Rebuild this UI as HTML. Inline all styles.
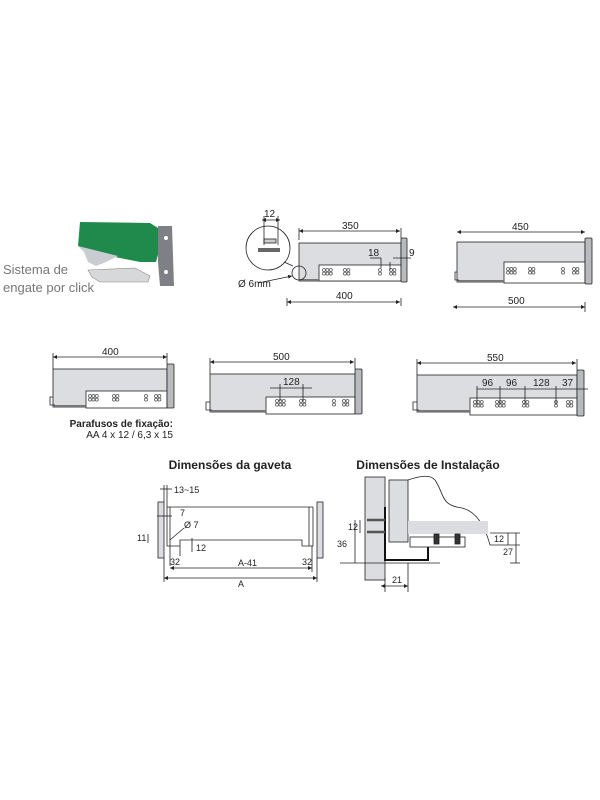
<!DOCTYPE html><html><head><meta charset="utf-8"><style>body{margin:0;background:#fff}svg{display:block}text{font-family:"Liberation Sans",sans-serif;fill:#222}</style></head><body>
<svg width="600" height="800" viewBox="0 0 600 800" xmlns="http://www.w3.org/2000/svg">
<defs>
<marker id="a" viewBox="0 0 6 6" refX="6" refY="3" markerWidth="5" markerHeight="5" orient="auto-start-reverse"><path d="M0,0L6,3L0,6z" fill="#222"/></marker>
<g id="h3" fill="none" stroke="#555" stroke-width="0.8"><circle cx="0" cy="0" r="1.5"/><circle cx="3.4" cy="0" r="1.5"/><circle cx="6.8" cy="0" r="1.5"/><circle cx="0" cy="3.6" r="1.5"/><circle cx="3.4" cy="3.6" r="1.5"/><circle cx="6.8" cy="3.6" r="1.5"/></g>
<g id="h2" fill="none" stroke="#555" stroke-width="0.8"><circle cx="0" cy="0" r="1.5"/><circle cx="3.4" cy="0" r="1.5"/><circle cx="0" cy="3.6" r="1.5"/><circle cx="3.4" cy="3.6" r="1.5"/></g>
<g id="h1" fill="none" stroke="#555" stroke-width="0.8"><circle cx="0" cy="0" r="1.5"/><circle cx="0" cy="3.6" r="1.5"/></g>
</defs>
<g stroke="#222" stroke-width="0.8" font-size="10">
<!-- photo -->
<path d="M80,222 L150,223 L158,228 L162,240 L156,262 L140,262 L120,258 L90,252 L78,246 Z" fill="#1f8a4c" stroke="none"/>
<path d="M78,246 L118,256 L106,262 L96,266 L88,262 L84,252Z" fill="#c9ccd0" stroke="none"/>
<path d="M88,270 L135,268 L150,276 L148,282 L100,282 L92,277Z" fill="#d6d8da" stroke="#888" stroke-width="0.6"/>
<path d="M158,226 L172,226 L174,286 L160,286 L158,262 Z" fill="#7d8085" stroke="none"/>
<circle cx="166" cy="238" r="2" fill="#fff" stroke="none"/><circle cx="166" cy="272" r="2" fill="#fff" stroke="none"/>
<text x="3" y="274" font-size="13" stroke="none" style="fill:#777">Sistema de</text>
<text x="3" y="292" font-size="13" stroke="none" style="fill:#777">engate por click</text>

<!-- drawer 1 -->
<rect x="299" y="243" width="102" height="38" fill="#dcdde0"/>
<rect x="319" y="265" width="82" height="16" fill="#fff"/>
<line x1="299" y1="280" x2="319" y2="280" stroke="#777" stroke-width="2"/>
<rect x="401" y="238" width="6" height="44" rx="1" fill="#b8babd"/>
<use href="#h3" x="324" y="270"/><use href="#h2" x="345" y="270"/><use href="#h1" x="380" y="270"/><use href="#h2" x="391" y="270"/>
<circle cx="299" cy="273" r="7" fill="none"/>
<circle cx="268" cy="248" r="22" fill="#fff"/>
<rect x="258" y="248" width="22" height="4" fill="#666" stroke="none"/><rect x="264" y="239" width="12" height="4" fill="#ccc"/>
<line x1="293" y1="266" x2="284" y2="262"/>
<line x1="262" y1="220" x2="280" y2="220" marker-start="url(#a)" marker-end="url(#a)"/><line x1="264" y1="216" x2="264" y2="245"/><line x1="278" y1="216" x2="278" y2="245"/>
<text x="264" y="217" stroke="none">12</text>
<line x1="299" y1="231" x2="400" y2="231" marker-start="url(#a)" marker-end="url(#a)"/><line x1="299" y1="228" x2="299" y2="240"/><line x1="401" y1="228" x2="401" y2="238"/>
<text x="342" y="229" stroke="none">350</text>
<line x1="287" y1="302" x2="400" y2="302" marker-start="url(#a)" marker-end="url(#a)"/><line x1="287" y1="298" x2="287" y2="306"/><line x1="401" y1="298" x2="401" y2="306"/>
<text x="336" y="299" stroke="none">400</text>
<line x1="370" y1="258" x2="381" y2="258"/><line x1="381" y1="258" x2="381" y2="268"/><text x="368" y="256" stroke="none">18</text>
<line x1="390" y1="262" x2="390" y2="270"/><line x1="393" y1="258" x2="411" y2="258"/><text x="409" y="256" stroke="none">9</text>
<line x1="258" y1="283" x2="292" y2="276" marker-end="url(#a)"/>
<text x="238" y="287" stroke="none">Ø 6mm</text>

<!-- drawer 2 -->
<rect x="457" y="242" width="128" height="40" fill="#dcdde0"/>
<rect x="504" y="262" width="81" height="21" fill="#fff"/>
<line x1="457" y1="281" x2="504" y2="281" stroke="#777" stroke-width="2"/>
<rect x="585" y="238" width="7" height="46" rx="1" fill="#b8babd"/>
<use href="#h3" x="508" y="269"/><use href="#h2" x="530" y="269"/><use href="#h1" x="563" y="269"/><use href="#h2" x="574" y="269"/>
<path d="M457,272 L455,272 L455,280 L459,280" fill="none"/>
<line x1="457" y1="232" x2="585" y2="232" marker-start="url(#a)" marker-end="url(#a)"/>
<text x="512" y="230" stroke="none">450</text>
<line x1="453" y1="307" x2="585" y2="307" marker-start="url(#a)" marker-end="url(#a)"/><line x1="585" y1="302" x2="585" y2="312"/>
<text x="508" y="304" stroke="none">500</text>

<!-- drawer A -->
<rect x="53" y="369" width="114" height="38" fill="#dcdde0"/>
<rect x="86" y="391" width="81" height="17" fill="#fff"/>
<line x1="53" y1="406" x2="86" y2="406" stroke="#777" stroke-width="2"/>
<rect x="167" y="364" width="7" height="44" rx="1" fill="#b8babd"/>
<use href="#h3" x="90" y="396"/><use href="#h2" x="114" y="396"/><use href="#h1" x="146" y="396"/><use href="#h2" x="156" y="396"/>
<path d="M53,397 L50,397 L50,405 L55,405" fill="none"/>
<line x1="53" y1="357" x2="167" y2="357" marker-start="url(#a)" marker-end="url(#a)"/><line x1="53" y1="353" x2="53" y2="369"/><line x1="167" y1="353" x2="167" y2="364"/>
<text x="102" y="355" stroke="none">400</text>
<text x="173" y="427" stroke="none" text-anchor="end" font-weight="bold" font-size="10">Parafusos de fixação:</text>
<text x="173" y="438" stroke="none" text-anchor="end" font-size="10">AA 4 x 12 / 6,3 x 15</text>

<!-- drawer B -->
<rect x="210" y="374" width="145" height="38" fill="#dcdde0"/>
<rect x="266" y="397" width="89" height="17" fill="#fff"/>
<line x1="210" y1="411" x2="266" y2="411" stroke="#777" stroke-width="2"/>
<rect x="355" y="369" width="7" height="45" rx="1" fill="#b8babd"/>
<use href="#h3" x="277" y="401"/><use href="#h2" x="301" y="401"/><use href="#h1" x="334" y="401"/><use href="#h2" x="344" y="401"/>
<path d="M210,402 L206,402 L206,410 L212,410" fill="none"/>
<line x1="210" y1="362" x2="354" y2="362" marker-start="url(#a)" marker-end="url(#a)"/><line x1="210" y1="358" x2="210" y2="374"/><line x1="355" y1="358" x2="355" y2="369"/>
<text x="273" y="360" stroke="none">500</text>
<line x1="270" y1="388" x2="312" y2="388"/><line x1="280" y1="384" x2="280" y2="401"/><line x1="303" y1="384" x2="303" y2="401"/>
<text x="283" y="385" stroke="none">128</text>

<!-- drawer C -->
<rect x="417" y="375" width="160" height="37" fill="#dcdde0"/>
<rect x="470" y="398" width="107" height="17" fill="#fff"/>
<line x1="417" y1="411" x2="470" y2="411" stroke="#777" stroke-width="2"/>
<rect x="577" y="370" width="7" height="46" rx="1" fill="#b8babd"/>
<use href="#h3" x="475" y="402"/><use href="#h3" x="497" y="402"/><use href="#h2" x="524" y="402"/><use href="#h1" x="556" y="402"/><use href="#h2" x="568" y="402"/>
<path d="M417,402 L413,402 L413,410 L419,410" fill="none"/>
<line x1="417" y1="363" x2="576" y2="363" marker-start="url(#a)" marker-end="url(#a)"/><line x1="417" y1="359" x2="417" y2="375"/><line x1="577" y1="359" x2="577" y2="370"/>
<text x="487" y="361" stroke="none">550</text>
<line x1="477" y1="389" x2="588" y2="389"/>
<line x1="477" y1="386" x2="477" y2="404"/><line x1="500" y1="386" x2="500" y2="404"/><line x1="525" y1="386" x2="525" y2="404"/><line x1="556" y1="386" x2="556" y2="404"/>
<text x="482" y="386" stroke="none">96</text><text x="506" y="386" stroke="none">96</text><text x="533" y="386" stroke="none">128</text><text x="562" y="386" stroke="none">37</text>

<!-- titles -->
<text x="230" y="469" stroke="none" text-anchor="middle" font-weight="bold" font-size="12">Dimensões da gaveta</text>
<text x="428" y="469" stroke="none" text-anchor="middle" font-weight="bold" font-size="12">Dimensões de Instalação</text>

<!-- gaveta drawing -->
<rect x="158" y="502" width="6" height="56" fill="#dcdde0"/>
<rect x="317" y="502" width="6" height="56" fill="#dcdde0"/>
<path d="M167,507 L313,507 M167,507 L167,546 L180,546 L180,540 L302,540 L302,546 L313,546 L313,507" fill="none"/>
<line x1="170" y1="507" x2="170" y2="546"/><line x1="309" y1="507" x2="309" y2="546"/>
<line x1="160" y1="489" x2="172" y2="489"/><line x1="164" y1="485" x2="164" y2="502"/><line x1="167" y1="485" x2="167" y2="507"/>
<text x="174" y="493" stroke="none" font-size="9">13~15</text>
<line x1="157" y1="516" x2="172" y2="516"/><text x="180" y="516" stroke="none" font-size="9">7</text>
<text x="184" y="528" stroke="none" font-size="9">Ø 7</text><line x1="184" y1="528" x2="170" y2="540"/>
<line x1="148" y1="534" x2="148" y2="543"/><text x="137" y="541" stroke="none" font-size="9">11</text>
<line x1="192" y1="538" x2="192" y2="552"/><text x="196" y="551" stroke="none" font-size="9">12</text>
<line x1="170" y1="546" x2="170" y2="566"/><line x1="180" y1="546" x2="180" y2="556"/>
<text x="170" y="565" stroke="none" font-size="9">32</text><text x="302" y="565" stroke="none" font-size="9">32</text>
<line x1="170" y1="568" x2="312" y2="568" marker-start="url(#a)" marker-end="url(#a)"/><line x1="312" y1="546" x2="312" y2="572"/>
<text x="238" y="566" stroke="none" font-size="9">A-41</text>
<line x1="164" y1="578" x2="317" y2="578" marker-start="url(#a)" marker-end="url(#a)"/><line x1="164" y1="558" x2="164" y2="582"/><line x1="317" y1="558" x2="317" y2="582"/>
<text x="238" y="587" stroke="none" font-size="9">A</text>

<!-- instalação drawing -->
<rect x="365" y="477" width="20" height="103" fill="#dcdde0"/>
<rect x="389" y="480" width="19" height="62" fill="#dcdde0"/>
<path d="M408,480 C420,476 430,474 435,480 C445,495 440,505 462,508 C478,512 486,530 490,545" fill="none"/>
<rect x="408" y="521" width="80" height="13" fill="#dcdde0" stroke="none"/>
<path d="M385,507 L385,560 L428,560 L428,545 L418,545" fill="none" stroke="#111" stroke-width="2"/>
<line x1="367" y1="520" x2="385" y2="520" stroke-width="2.5" stroke="#555"/><line x1="367" y1="532" x2="385" y2="532" stroke-width="2.5" stroke="#555"/>
<rect x="410" y="537" width="55" height="10" fill="#fff"/><rect x="434" y="534" width="5" height="10" fill="#333"/><rect x="455" y="534" width="5" height="10" fill="#333"/>
<line x1="360" y1="520" x2="360" y2="533"/><text x="348" y="530" stroke="none" font-size="9">12</text>
<line x1="355" y1="520" x2="355" y2="563"/><text x="337" y="547" stroke="none" font-size="9">36</text>
<line x1="340" y1="563" x2="440" y2="563"/>
<line x1="490" y1="533" x2="520" y2="533"/><line x1="490" y1="545" x2="520" y2="545"/><line x1="508" y1="533" x2="508" y2="545"/>
<text x="494" y="542" stroke="none" font-size="9">12</text>
<line x1="510" y1="563" x2="520" y2="563"/><line x1="516" y1="533" x2="516" y2="563"/>
<text x="503" y="555" stroke="none" font-size="9">27</text>
<line x1="381" y1="586" x2="408" y2="586" marker-start="url(#a)" marker-end="url(#a)"/><line x1="385" y1="578" x2="385" y2="592"/><line x1="408" y1="563" x2="408" y2="592"/>
<text x="392" y="583" stroke="none" font-size="9">21</text>
</g>
</svg>
</body></html>
